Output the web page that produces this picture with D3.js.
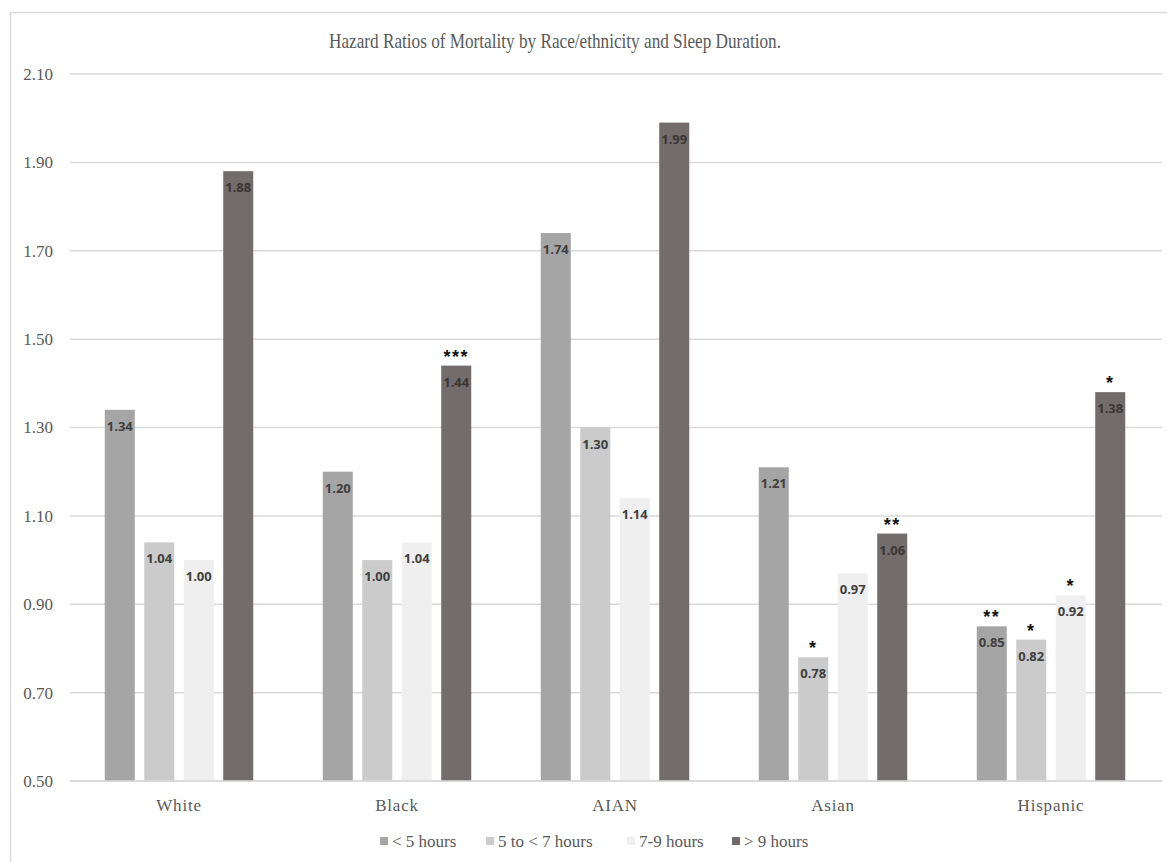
<!DOCTYPE html>
<html>
<head>
<meta charset="utf-8">
<script src="https://cdn.jsdelivr.net/npm/d3@7"></script>
<style>
  html, body { margin: 0; padding: 0; background: #fff; }
  svg { display: block; }
</style>
</head>
<body>
<svg id="chart" width="1167" height="862"></svg>
<script>
// ---- data ----
const categories = ["White", "Black", "AIAN", "Asian", "Hispanic"];
const seriesNames = ["< 5 hours", "5 to < 7 hours", "7-9 hours", "> 9 hours"];
const lt5   = [1.34, 1.20, 1.74, 1.21, 0.85];
const h5to7 = [1.04, 1.00, 1.30, 0.78, 0.82];
const h7to9 = [1.00, 1.04, 1.14, 0.97, 0.92];
const gt9   = [1.88, 1.44, 1.99, 1.06, 1.38];
const sigLt5   = ["", "", "", "", "**"];
const sigH5to7 = ["", "", "", "*", "*"];
const sigH7to9 = ["", "", "", "", "*"];
const sigGt9   = ["", "***", "", "**", "*"];
const yTicks = [0.50, 0.70, 0.90, 1.10, 1.30, 1.50, 1.70, 1.90, 2.10];
const titleText = "Hazard Ratios of Mortality by Race/ethnicity and Sleep Duration.";

const seriesValues = [lt5, h5to7, h7to9, gt9];
const seriesSig = [sigLt5, sigH5to7, sigH7to9, sigGt9];
const colors = ["#a5a5a5", "#cbcbcb", "#efefef", "#726c6c"];

const serif = "'Liberation Serif', 'Times New Roman', serif";
const svg = d3.select("#chart");
const plotLeft = 70, plotRight = 1160, plotTop = 74, plotBottom = 781;

// frame
svg.append("path")
  .attr("d", "M10.5,870 L10.5,12.5 L1175,12.5")
  .attr("fill", "none").attr("stroke", "#d9d9d9").attr("stroke-width", 1.5);

const y = d3.scaleLinear().domain([0.5, 2.1]).range([plotBottom, plotTop]);
const x0 = d3.scaleBand().domain(categories).range([plotLeft, plotRight]).padding(0);
const x1 = d3.scaleBand().domain(seriesNames).range([0, x0.bandwidth()])
  .paddingInner(0.24).paddingOuter(0.88);

// gridlines
svg.append("g").selectAll("line").data(yTicks).join("line")
  .attr("x1", plotLeft).attr("x2", plotRight + 2)
  .attr("y1", d => y(d)).attr("y2", d => y(d))
  .attr("stroke", "#d9d9d9").attr("stroke-width", 1.5);

// y axis labels
const yAxis = d3.axisLeft(y).tickValues(yTicks).tickFormat(d3.format(".2f")).tickSize(0).tickPadding(0);
const gy = svg.append("g").attr("transform", `translate(53,0)`).call(yAxis);
gy.select(".domain").remove();
gy.selectAll("text")
  .attr("font-family", serif)
  .attr("font-size", 17).attr("fill", "#595959");

// bars
const data = [];
categories.forEach((c, i) => {
  seriesNames.forEach((s, j) => {
    data.push({ cat: c, ser: s, j, v: seriesValues[j][i], sig: seriesSig[j][i] });
  });
});

const g = svg.append("g");
g.selectAll("rect").data(data).join("rect")
  .attr("x", d => x0(d.cat) + x1(d.ser))
  .attr("width", x1.bandwidth())
  .attr("y", d => y(d.v))
  .attr("height", d => y(0.5) - y(d.v))
  .attr("fill", d => colors[d.j]);

// value labels
g.selectAll("text.val").data(data).join("text")
  .attr("class", "val")
  .attr("x", d => x0(d.cat) + x1(d.ser) + x1.bandwidth() / 2)
  .attr("y", d => y(d.v) + 21)
  .attr("text-anchor", "middle")
  .attr("font-family", "'Open Sans', 'Liberation Sans', sans-serif")
  .attr("font-weight", 700)
  .attr("font-size", 13)
  .attr("fill", d => d.j === 3 ? "#3a3636" : "#404040")
  .text(d => d.v.toFixed(2));

// significance markers
g.selectAll("text.sig").data(data.filter(d => d.sig)).join("text")
  .attr("class", "sig")
  .attr("x", d => x0(d.cat) + x1(d.ser) + x1.bandwidth() / 2)
  .attr("y", d => y(d.v) - 3)
  .attr("text-anchor", "middle")
  .attr("font-family", "'Liberation Sans', sans-serif")
  .attr("font-weight", 700)
  .attr("font-size", 18)
  .attr("letter-spacing", 1.5)
  .attr("fill", "#111")
  .text(d => d.sig);

// x axis line
svg.append("line")
  .attr("x1", plotLeft).attr("x2", plotRight + 2)
  .attr("y1", plotBottom).attr("y2", plotBottom)
  .attr("stroke", "#d9d9d9").attr("stroke-width", 1.5);

// category labels
const xAxis = d3.axisBottom(x0).tickSize(0).tickPadding(0);
const gx = svg.append("g").attr("transform", `translate(0,${plotBottom + 30})`).call(xAxis);
gx.select(".domain").remove();
gx.selectAll("text")
  .attr("dy", 0)
  .attr("font-family", serif)
  .attr("font-size", 17).attr("fill", "#595959")
  .attr("letter-spacing", 0.8);

// title
svg.append("text")
  .attr("x", 555).attr("y", 48)
  .attr("text-anchor", "middle")
  .attr("font-family", serif)
  .attr("font-size", 21.5).attr("fill", "#595959")
  .attr("textLength", 452)
  .attr("lengthAdjust", "spacingAndGlyphs")
  .text(titleText);

// legend
const legendX = [380, 486, 627, 732];
const lg = svg.append("g");
seriesNames.forEach((s, j) => {
  lg.append("rect").attr("x", legendX[j]).attr("y", 837)
    .attr("width", 8).attr("height", 8).attr("fill", colors[j]);
  lg.append("text").attr("x", legendX[j] + 12).attr("y", 847)
    .attr("font-family", serif)
    .attr("font-size", 17).attr("fill", "#595959")
    .text(s);
});
</script>
</body>
</html>
